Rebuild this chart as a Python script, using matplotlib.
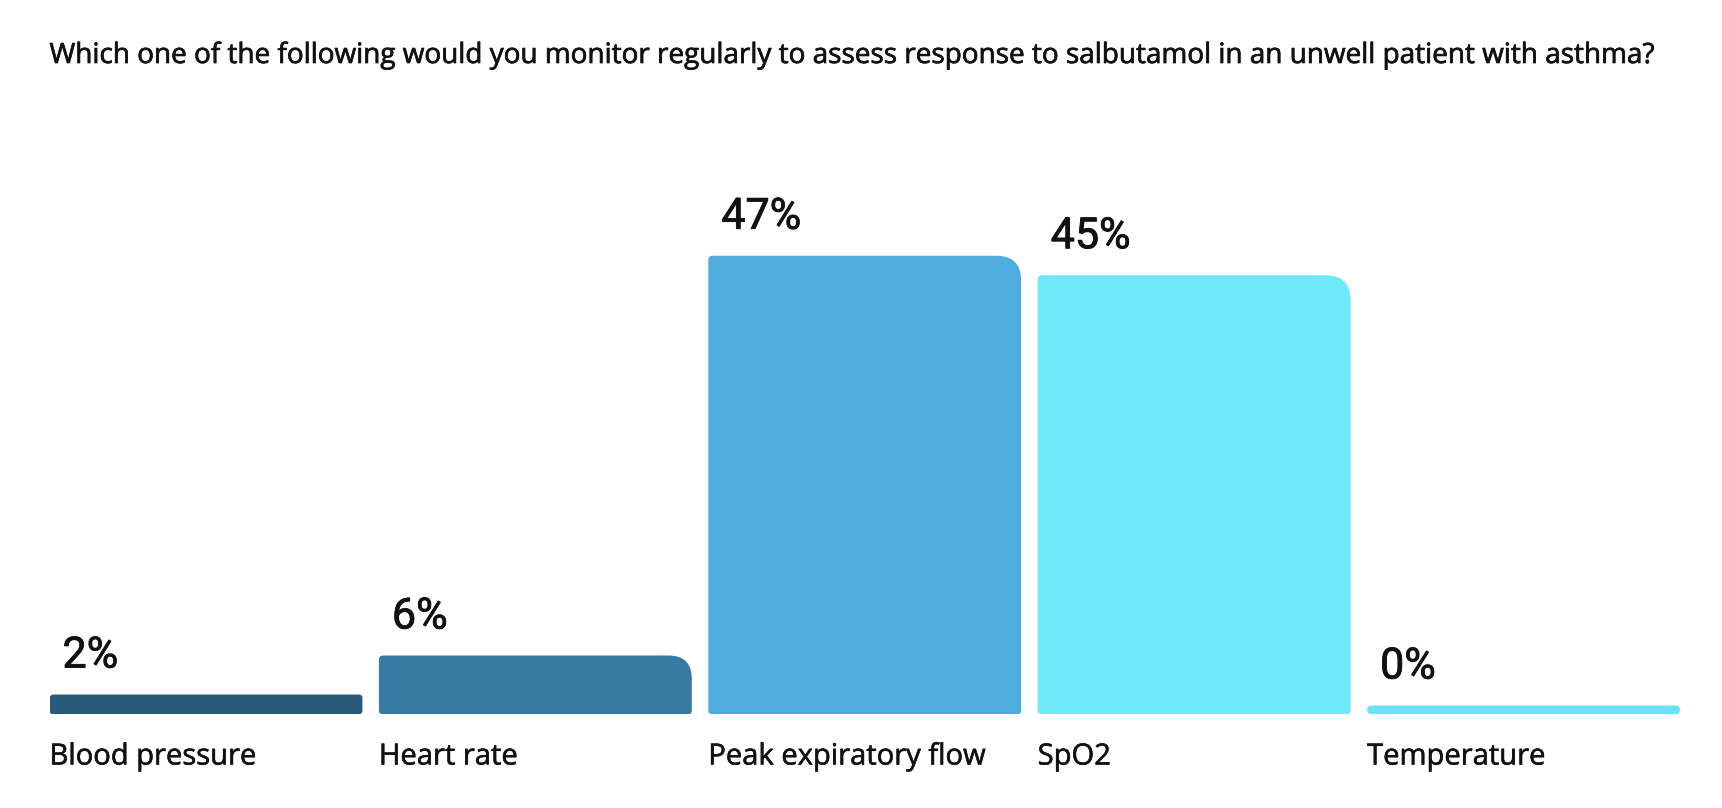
import matplotlib.pyplot as plt
from matplotlib.path import Path
from matplotlib.patches import PathPatch
import matplotlib.transforms as mtransforms
import matplotlib.patheffects as pe

question = "Which one of the following would you monitor regularly to assess response to salbutamol in an unwell patient with asthma?"
options = ["Blood pressure", "Heart rate", "Peak expiratory flow", "SpO2", "Temperature"]
percent = [2, 6, 47, 45, 0]
colours = ["#2a5a79", "#387ba2", "#4eacde", "#6fe9f9", "#6ae3f7"]

W, H = 1722, 808
fig = plt.figure(figsize=(W / 100, H / 100), dpi=100)
fig.patch.set_facecolor("white")

# axes placed in pixels: bars from x=49 to 1680, baseline at y=714
left_px, right_px, base_px = 49.5, 1680, 714
px_per_unit = 9.75
ax_top_px = 160
ax = fig.add_axes([left_px / W, (H - base_px) / H, (right_px - left_px) / W,
                   (base_px - ax_top_px) / H])
ax.set_xlim(-0.475, 4.475)
ax.set_ylim(0, (base_px - ax_top_px) / px_per_unit)
ax.axis("off")

xpx = (right_px - left_px) / 4.95  # pixels per x unit


def rounded_bar(x, y, w, h, r_tl, r_tr, r_b, color):
    # corner radii given in pixels, converted to data units on each axis
    def rx(r):
        return r / xpx

    def ry(r):
        return r / px_per_unit

    x0, x1, y0, y1 = x, x + w, y, y + h
    verts = [
        (x0 + rx(r_b), y0),
        (x1 - rx(r_b), y0), (x1, y0), (x1, y0 + ry(r_b)),
        (x1, y1 - ry(r_tr)), (x1, y1), (x1 - rx(r_tr), y1),
        (x0 + rx(r_tl), y1), (x0, y1), (x0, y1 - ry(r_tl)),
        (x0, y0 + ry(r_b)), (x0, y0), (x0 + rx(r_b), y0),
        (x0 + rx(r_b), y0),
    ]
    codes = [Path.MOVETO,
             Path.LINETO, Path.CURVE3, Path.CURVE3,
             Path.LINETO, Path.CURVE3, Path.CURVE3,
             Path.LINETO, Path.CURVE3, Path.CURVE3,
             Path.LINETO, Path.CURVE3, Path.CURVE3,
             Path.CLOSEPOLY]
    ax.add_patch(PathPatch(Path(verts, codes), facecolor=color, edgecolor="none"))


min_h = 8.5 / px_per_unit
bars = ax.bar(range(len(options)), [max(p, min_h) for p in percent], width=0.95,
              color=colours)

for b, p, lab, c in zip(bars, percent, options, colours):
    x, w, h = b.get_x(), b.get_width(), b.get_height()
    b.remove()
    hp = h * px_per_unit
    if p == 0:
        r = hp / 2
        rounded_bar(x, 0, w, h, r, r, r, c)
    else:
        r_tr = min(25, max(3.5, (hp - 16) * 0.55))
        rounded_bar(x, 0, w, h, 4.5, r_tr, 3, c)

    off = mtransforms.offset_copy(ax.transData, fig=fig, x=13, y=18, units="dots")
    ax.text(x, h, f"{p}%", transform=off, ha="left", va="bottom",
            fontsize=31, family=["Roboto", "DejaVu Sans"], color="#111111",
            path_effects=[pe.withStroke(linewidth=0.6, foreground="#111111")])
    off2 = mtransforms.offset_copy(ax.transData, fig=fig, x=0, y=-43, units="dots")
    ax.text(x, 0, lab, transform=off2, ha="left", va="center",
            fontsize=21, family=["Open Sans", "DejaVu Sans"], color="#111111",
            path_effects=[pe.withStroke(linewidth=0.4, foreground="#111111")])

fig.text(left_px / W, 1 - 56 / H, question, ha="left", va="center",
         fontsize=20.1, family=["Open Sans", "DejaVu Sans"], color="#111111",
         path_effects=[pe.withStroke(linewidth=0.5, foreground="#111111")])

fig.savefig("out.png", dpi=100, facecolor="white")
